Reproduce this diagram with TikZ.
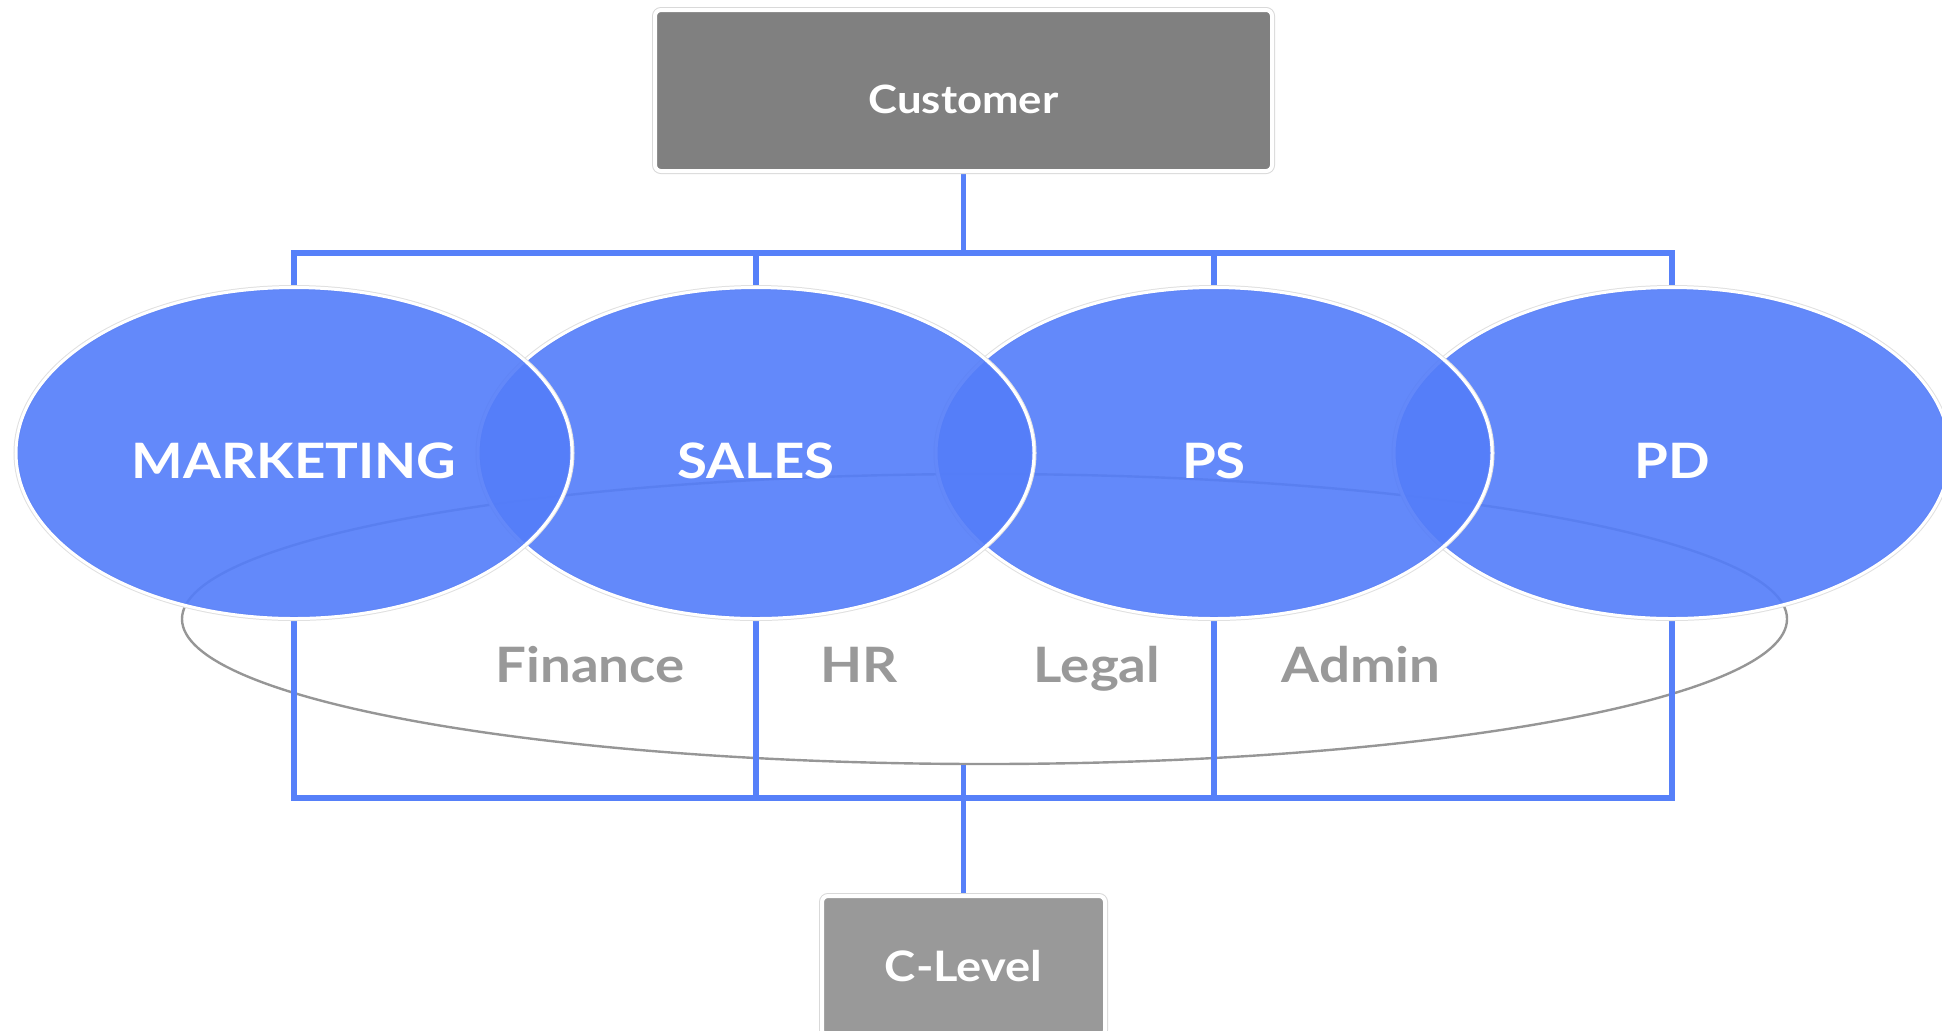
\documentclass[tikz,border=0pt]{standalone}
\usepackage{fontspec}
\setmainfont{Lato}[FakeStretch=1.12]
\usetikzlibrary{shapes.geometric}
\definecolor{linkblue}{RGB}{86,128,249}
\definecolor{ellblue}{RGB}{84,125,249}
\definecolor{custgray}{RGB}{128,128,128}
\definecolor{clgray}{RGB}{153,153,153}
\definecolor{ringgray}{RGB}{150,150,150}
\definecolor{txtgray}{RGB}{153,153,153}
\pgfdeclarelayer{back}
\pgfsetlayers{back,main}
\begin{document}
\begin{tikzpicture}[x=0.5pt,y=-0.5pt,
  card/.style={rectangle, rounded corners=3pt, draw=white, line width=2pt,
    preaction={draw=black!15, line width=3pt}, inner sep=0pt, text=white},
  team/.style={ellipse, minimum width=278pt, minimum height=165.5pt, inner sep=0pt,
    fill=ellblue, fill opacity=0.91, text opacity=1, draw=white, draw opacity=1,
    line width=1.5pt, preaction={draw=black!12, draw opacity=1, line width=2.5pt},
    text=white, font=\fontsize{24.4pt}{28pt}\selectfont\bfseries,
    text height=25pt, text depth=0pt},
  support/.style={inner sep=0pt, text=txtgray, font=\fontsize{24.4pt}{28pt}\selectfont\bfseries,
    text height=17.5pt, text depth=0pt},
  ringstyle/.style={ellipse, draw=ringgray, line width=1.2pt, minimum width=802.5pt, minimum height=145pt, inner sep=0pt},
  conn/.style={draw=linkblue, line width=2.9pt}
]
\useasboundingbox (0,0) rectangle (1942,1030);
\clip (0,0) rectangle (1942,1030);

% boxes
\node[card, fill=custgray, minimum width=308.5pt, minimum height=80.5pt,
  font=\fontsize{19.5pt}{23pt}\selectfont\bfseries, text height=22.5pt, text depth=0pt]
  (cust) at (963.5,90.5) {Customer};
\node[card, fill=clgray, minimum width=141.5pt, minimum height=70pt,
  font=\fontsize{21pt}{25pt}\selectfont\bfseries, text height=15pt, text depth=0pt]
  (cl) at (963.5,966) {C-Level};

% team ellipses, right to left
\node[team] (pd) at (1672,453) {PD};
\node[team] (ps) at (1214,453) {PS};
\node[team] (sales) at (756,453) {SALES};
\node[team] (mkt) at (294,453) {MARKETING};

\begin{pgfonlayer}{back}
  \node[ringstyle] (ring) at (984.5,619) {};
  \coordinate (tb) at (963.5,253);
  \coordinate (bb) at (963.5,798);
  \draw[conn] (mkt.north) |- (tb) -| (pd.north);
  \draw[conn] (sales.north) -- (sales.north |- tb);
  \draw[conn] (ps.north) -- (ps.north |- tb);
  \draw[conn] (cust.south) -- (tb);
  \draw[conn] (mkt.south) |- (bb) -| (pd.south);
  \draw[conn] (sales.south) -- (sales.south |- bb);
  \draw[conn] (ps.south) -- (ps.south |- bb);
  \draw[conn] (ring.south -| cl.north) -- (cl.north);
\end{pgfonlayer}

% support functions
\node[support] (fin) at (590,664.5) {Finance};
\node[support] (hr) at (859,664.5) {HR};
\node[support] (legal) at (1097,664.5) {Legal};
\node[support] (admin) at (1361,664.5) {Admin};
\end{tikzpicture}
\end{document}
